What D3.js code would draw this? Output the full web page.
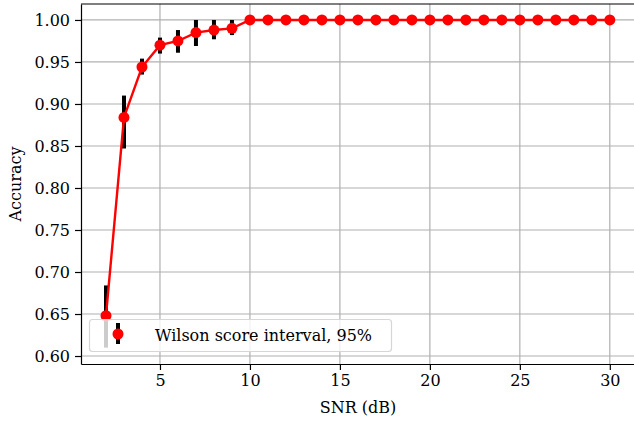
<!DOCTYPE html>
<html>
<meta charset="utf-8">
<title>Accuracy vs SNR</title>
<style>
  body { margin: 0; background: #fff; }
  svg { display: block; }
  text { font-family: "DejaVu Serif", serif; fill: #000; }
  .grid line { stroke: #b0b0b0; stroke-width: 1.2; }
  .axis path, .axis line { stroke: #000; stroke-width: 1.2; }
</style>
<body>
<script src="https://d3js.org/d3.v7.min.js"></script>
<script>
// snr in dB, accuracy and the 95% Wilson interval bounds
var snr      = [2, 3, 4, 5, 6, 7, 8, 9, 10, 11, 12, 13, 14, 15, 16, 17, 18, 19, 20, 21, 22, 23, 24, 25, 26, 27, 28, 29, 30];
var accuracy = [0.648, 0.884, 0.944, 0.970, 0.975, 0.985, 0.988, 0.990, 1, 1, 1, 1, 1, 1, 1, 1, 1, 1, 1, 1, 1, 1, 1, 1, 1, 1, 1, 1, 1];
var lower    = [0.610, 0.847, 0.935, 0.960, 0.961, 0.969, 0.977, 0.982, 1, 1, 1, 1, 1, 1, 1, 1, 1, 1, 1, 1, 1, 1, 1, 1, 1, 1, 1, 1, 1];
var upper    = [0.684, 0.910, 0.954, 0.979, 0.988, 1.000, 1.000, 1.000, 1, 1, 1, 1, 1, 1, 1, 1, 1, 1, 1, 1, 1, 1, 1, 1, 1, 1, 1, 1, 1];
var xTicks = [5, 10, 15, 20, 25, 30];
var yTicks = [0.60, 0.65, 0.70, 0.75, 0.80, 0.85, 0.90, 0.95, 1.00];

var width = 634, height = 424;
var mLeft = 81, mRight = 635, mTop = 4, mBottom = 364;

var x = d3.scaleLinear().domain([0.611, 31.4]).range([mLeft, mRight]);
var y = d3.scaleLinear().domain([0.5905, 1.019]).range([mBottom, mTop]);

var svg = d3.select("body").append("svg")
    .attr("width", width)
    .attr("height", height);

// grid
var grid = svg.append("g").attr("class", "grid");
grid.selectAll(".gx").data(xTicks).enter().append("line")
    .attr("x1", d => x(d)).attr("x2", d => x(d))
    .attr("y1", mTop).attr("y2", mBottom);
grid.selectAll(".gy").data(yTicks).enter().append("line")
    .attr("x1", mLeft).attr("x2", mRight)
    .attr("y1", d => y(d)).attr("y2", d => y(d));

// axes
svg.append("g").attr("class", "axis")
    .attr("transform", "translate(0," + mBottom + ")")
    .call(d3.axisBottom(x).tickValues(xTicks).tickSize(6).tickPadding(5).tickSizeOuter(0));
svg.append("g").attr("class", "axis")
    .attr("transform", "translate(" + mLeft + ",0)")
    .call(d3.axisLeft(y).tickValues(yTicks).tickFormat(d3.format(".2f")).tickSize(6).tickPadding(5).tickSizeOuter(0));
svg.selectAll(".axis text").style("font-family", "DejaVu Serif").style("font-size", "16px");
svg.append("line")
    .attr("x1", mLeft).attr("x2", mRight)
    .attr("y1", mTop).attr("y2", mTop)
    .attr("stroke", "#000").attr("stroke-width", 1.2);

// data
var data = snr.map((s, i) => ({ snr: s, acc: accuracy[i], lo: lower[i], hi: upper[i] }));

var plot = svg.append("g");
plot.selectAll(".err").data(data).enter().append("line")
    .attr("x1", d => x(d.snr)).attr("x2", d => x(d.snr))
    .attr("y1", d => y(d.lo)).attr("y2", d => y(d.hi))
    .attr("stroke", "#000").attr("stroke-width", 4);

plot.append("path")
    .datum(data)
    .attr("fill", "none")
    .attr("stroke", "#ff0000")
    .attr("stroke-width", 2.4)
    .attr("d", d3.line().x(d => x(d.snr)).y(d => y(d.acc)));

plot.selectAll(".dot").data(data).enter().append("circle")
    .attr("cx", d => x(d.snr)).attr("cy", d => y(d.acc))
    .attr("r", 5.5)
    .attr("fill", "#ff0000");

// legend
var lg = svg.append("g");
lg.append("rect")
    .attr("x", 89.5).attr("y", 319.5)
    .attr("width", 302).attr("height", 32)
    .attr("rx", 3)
    .attr("fill", "#fff").attr("fill-opacity", 0.8)
    .attr("stroke", "#d6d6d6").attr("stroke-width", 1.2);
lg.append("line")
    .attr("x1", 118).attr("x2", 118)
    .attr("y1", 323).attr("y2", 344)
    .attr("stroke", "#000").attr("stroke-width", 4);
lg.append("circle")
    .attr("cx", 118).attr("cy", 334).attr("r", 5.5)
    .attr("fill", "#ff0000");
lg.append("text")
    .attr("x", 155).attr("y", 341)
    .style("font-size", "16px")
    .text("Wilson score interval, 95%");

// axis labels
svg.append("text")
    .attr("x", (mLeft + mRight) / 2).attr("y", 413)
    .attr("text-anchor", "middle")
    .style("font-size", "16px")
    .text("SNR (dB)");
svg.append("text")
    .attr("transform", "translate(21," + (mTop + mBottom) / 2 + ") rotate(-90)")
    .attr("text-anchor", "middle")
    .style("font-size", "16px")
    .text("Accuracy");
</script>
</body>
</html>
